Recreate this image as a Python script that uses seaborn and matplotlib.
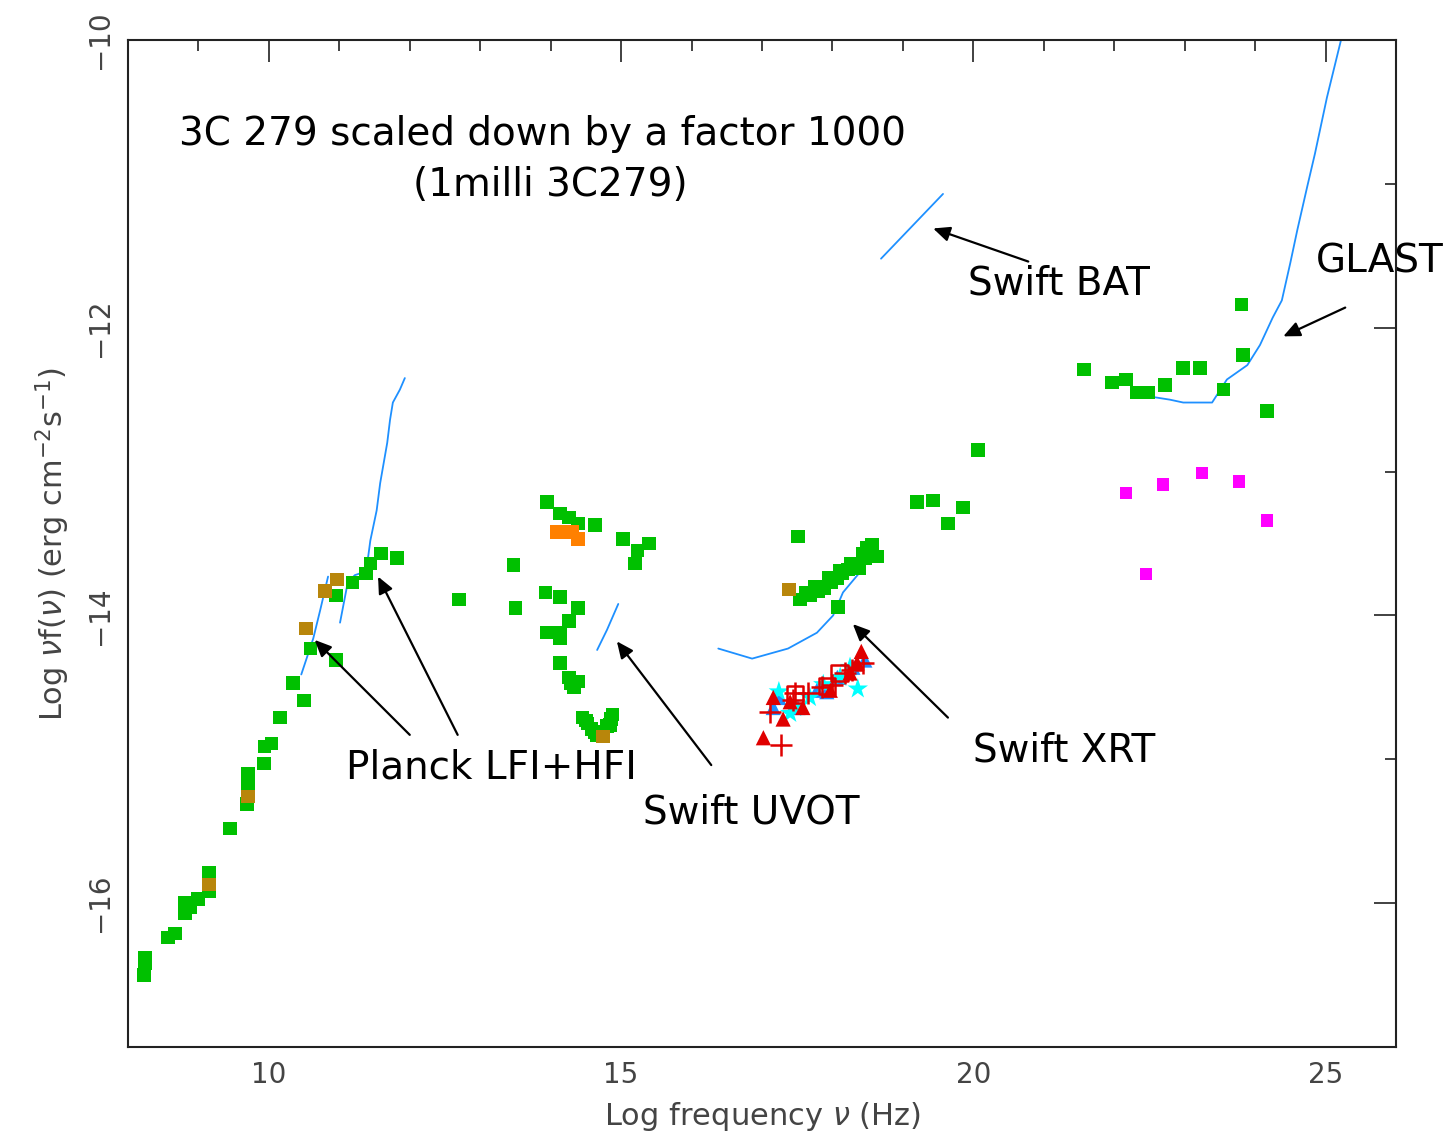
import numpy as np
import pandas as pd
import matplotlib
matplotlib.use("Agg")
import matplotlib.pyplot as plt
import seaborn as sns
from matplotlib.ticker import MultipleLocator

# ---------------- data (log nu [Hz], log nuF_nu [erg cm^-2 s^-1]) ----------------
green_x = [8.23, 8.24, 8.24, 8.57, 8.67, 8.81, 8.81, 8.88, 8.99, 9.15, 9.15, 9.15,
           9.45, 9.70, 9.70, 9.70, 9.69, 9.93, 9.94, 10.04, 10.16, 10.34, 10.50, 10.59,
           10.95, 10.95, 11.19, 11.38, 11.44, 11.59, 11.82, 12.70,
           13.95, 14.13, 14.26, 14.39, 14.63, 15.03, 15.23, 15.40, 15.20, 13.47, 13.50,
           13.93, 14.13, 14.39, 14.26, 13.95, 14.13, 14.13, 14.13, 14.26, 14.29, 14.39, 14.33,
           14.45, 14.52, 14.58, 14.65, 14.73, 14.80, 14.86, 14.88, 14.62, 14.50, 14.84,
           17.51, 17.54, 17.68, 17.80, 17.89, 17.99, 18.07, 18.14, 18.22, 18.31, 18.38,
           18.43, 18.49, 18.56, 18.63, 18.08, 17.62, 17.75, 17.95, 18.10, 18.26, 18.46,
           20.07, 19.20, 19.43, 19.85, 19.64,
           21.57, 21.97, 22.17, 22.32, 22.48, 22.72, 22.98, 23.22, 23.55, 23.81, 23.83, 24.17]
green_y = [-16.50, -16.42, -16.38, -16.24, -16.21, -16.07, -16.00, -16.03, -15.97, -15.79, -15.86, -15.92,
           -15.48, -15.10, -15.17, -15.24, -15.31, -15.03, -14.91, -14.89, -14.71, -14.47, -14.59, -14.23,
           -13.86, -14.31, -13.77, -13.71, -13.64, -13.57, -13.60, -13.89,
           -13.21, -13.29, -13.32, -13.36, -13.37, -13.47, -13.55, -13.50, -13.64, -13.65, -13.95,
           -13.84, -13.87, -13.95, -14.04, -14.12, -14.12, -14.16, -14.33, -14.43, -14.47, -14.46, -14.50,
           -14.71, -14.75, -14.79, -14.83, -14.82, -14.77, -14.72, -14.69, -14.81, -14.73, -14.76,
           -13.45, -13.89, -13.86, -13.83, -13.81, -13.77, -13.74, -13.71, -13.68, -13.66, -13.67,
           -13.57, -13.53, -13.51, -13.59, -13.94, -13.84, -13.80, -13.74, -13.69, -13.64, -13.60,
           -12.85, -13.21, -13.20, -13.25, -13.36,
           -12.29, -12.38, -12.36, -12.45, -12.45, -12.40, -12.28, -12.28, -12.43, -11.84, -12.19, -12.58]

brown_x = [9.15, 9.70, 10.53, 10.80, 10.97, 14.74, 17.38]
brown_y = [-15.87, -15.26, -14.09, -13.83, -13.75, -14.84, -13.82]

orange_x = [14.08, 14.20, 14.30, 14.39]
orange_y = [-13.42, -13.42, -13.42, -13.47]

magenta_x = [22.17, 22.69, 23.25, 23.77, 24.17, 22.45]
magenta_y = [-13.15, -13.09, -13.01, -13.07, -13.34, -13.71]

xrt_tri_x = [17.02, 17.30, 17.16, 17.58, 18.41, 18.25, 17.40, 17.97, 18.35]
xrt_tri_y = [-14.85, -14.72, -14.57, -14.64, -14.25, -14.40, -14.60, -14.52, -14.33]
xrt_plus_x = [17.27, 17.11, 17.47, 17.65, 17.85, 17.99, 18.18, 18.43, 18.28, 17.44]
xrt_plus_y = [-14.90, -14.67, -14.54, -14.54, -14.50, -14.48, -14.40, -14.33, -14.38, -14.59]
xrt_sq_x = [17.47, 17.92, 18.10]
xrt_sq_y = [-14.55, -14.49, -14.40]
xrt_blue_x = [17.16, 17.24, 17.51, 17.78, 17.92, 18.07, 18.46, 18.29]
xrt_blue_y = [-14.64, -14.57, -14.64, -14.52, -14.53, -14.43, -14.31, -14.36]
xrt_star_x = [17.24, 17.40, 18.36, 17.87, 18.11, 18.25, 17.47, 17.68]
xrt_star_y = [-14.53, -14.68, -14.51, -14.48, -14.43, -14.36, -14.64, -14.57]

# sensitivity curves
lfi_x = [10.46, 10.63, 10.73, 10.84]
lfi_y = [-14.41, -14.16, -13.96, -13.73]
hfi_x = [11.01, 11.12, 11.22, 11.34, 11.41, 11.44, 11.53, 11.58, 11.68, 11.72, 11.76, 11.86, 11.93]
hfi_y = [-14.05, -13.77, -13.72, -13.70, -13.59, -13.48, -13.27, -13.08, -12.80, -12.64, -12.52, -12.43, -12.35]
uvot_x = [14.66, 14.80, 14.96]
uvot_y = [-14.24, -14.10, -13.92]
xrtc_x = [16.38, 16.86, 17.37, 17.78, 18.01, 18.15, 18.39]
xrtc_y = [-14.23, -14.30, -14.23, -14.12, -14.00, -13.84, -13.70]
bat_x = [18.69, 19.57]
bat_y = [-11.52, -11.07]
glast_x = [22.40, 22.79, 22.98, 23.39, 23.60, 23.89, 24.07, 24.25, 24.38, 24.50, 24.60,
           24.74, 24.85, 25.02, 25.22]
glast_y = [-12.47, -12.50, -12.52, -12.52, -12.36, -12.26, -12.12, -11.93, -11.81, -11.55, -11.32,
           -11.02, -10.79, -10.40, -10.00]

# ---------------- figure ----------------
sns.set_style("white")
plt.rcParams['font.family'] = ['DejaVu Sans']

fig = plt.figure(figsize=(14.43, 11.36), dpi=100)
ax = fig.add_axes([0.0887, 0.0783, 0.8787, 0.8865])

blue = '#1e90ff'
for xs, ys in [(lfi_x, lfi_y), (hfi_x, hfi_y), (uvot_x, uvot_y), (xrtc_x, xrtc_y),
               (bat_x, bat_y), (glast_x, glast_y)]:
    sns.lineplot(x=xs, y=ys, sort=False, color=blue, lw=1.3, ax=ax, estimator=None)

def sq(xs, ys, c, s=95):
    sns.scatterplot(x=xs, y=ys, marker='s', s=s, color=c, edgecolor='none', ax=ax, zorder=3)

sq(green_x, green_y, '#00c000')
sq(brown_x, brown_y, '#b8860b')
sq(orange_x, orange_y, '#ff8000')
sq(magenta_x, magenta_y, '#ff00ff', s=80)

sns.scatterplot(x=xrt_blue_x, y=xrt_blue_y, marker='^', s=120, color=blue, edgecolor='none', ax=ax, zorder=3)
sns.scatterplot(x=xrt_star_x, y=xrt_star_y, marker='*', s=240, color='#00ffff', edgecolor='none', ax=ax, zorder=4)
sns.scatterplot(x=xrt_tri_x, y=xrt_tri_y, marker='^', s=120, color='#e00000', edgecolor='none', ax=ax, zorder=5)
sns.scatterplot(x=xrt_plus_x, y=xrt_plus_y, marker='+', s=260, color='#e00000', linewidth=1.8, ax=ax, zorder=5)
sns.scatterplot(x=xrt_sq_x, y=xrt_sq_y, marker='s', s=140, facecolor='none', edgecolor='#e00000', linewidth=1.8, ax=ax, zorder=5)

ax.set_xlim(8, 26)
ax.set_ylim(-17, -10)

tc = '#333333'
ax.xaxis.set_major_locator(MultipleLocator(5))
ax.xaxis.set_minor_locator(MultipleLocator(1))
ax.yaxis.set_major_locator(MultipleLocator(2))
ax.yaxis.set_minor_locator(MultipleLocator(1))
ax.tick_params(which='both', direction='in', top=True, right=True, color=tc, width=1.3)
ax.tick_params(which='major', length=16, labelsize=20, labelcolor='#444444', pad=10)
ax.tick_params(which='minor', length=8)
for s in ax.spines.values():
    s.set_color('#222222')
    s.set_linewidth(1.5)
ax.set_yticks([-16, -14, -12, -10])
ax.set_yticklabels(['\u221216', '\u221214', '\u221212', '\u221210'], rotation=90, va='center')
ax.set_xticks([10, 15, 20, 25])
ax.set_xticklabels(['10', '15', '20', '25'])

ax.set_xlabel(r'Log frequency $\nu$ (Hz)', fontsize=22, color='#444444', labelpad=8)
ax.set_ylabel(r'Log $\nu$f($\nu$) (erg cm$^{-2}$s$^{-1}$)', fontsize=22, color='#444444', labelpad=10)

# annotations
tf = dict(fontsize=28, color='black')
ax.text(13.89, -10.65, '3C 279 scaled down by a factor 1000', ha='center', va='center', **tf)
ax.text(13.99, -11.01, '(1milli 3C279)', ha='center', va='center', **tf)
ax.text(19.92, -11.69, 'Swift BAT', ha='left', va='center', **tf)
ax.text(24.87, -11.54, 'GLAST', ha='left', va='center', clip_on=False, **tf)
ax.text(11.09, -15.06, 'Planck LFI+HFI', ha='left', va='center', **tf)
ax.text(15.31, -15.37, 'Swift UVOT', ha='left', va='center', **tf)
ax.text(20.0, -14.94, 'Swift XRT', ha='left', va='center', **tf)

arrows = [((20.78, -11.54), (19.43, -11.31)),
          ((25.28, -11.86), (24.40, -12.06)),
          ((12.00, -14.83), (10.65, -14.17)),
          ((12.68, -14.83), (11.55, -13.73)),
          ((16.28, -15.04), (14.94, -14.18)),
          ((19.64, -14.71), (18.29, -14.06))]
for tail, head in arrows:
    ax.annotate('', xy=head, xytext=tail,
                arrowprops=dict(arrowstyle='-|>,head_length=1.0,head_width=0.45',
                                color='black', lw=1.6, shrinkA=0, shrinkB=0),
                annotation_clip=False)

fig.savefig('out.png', dpi=100)
